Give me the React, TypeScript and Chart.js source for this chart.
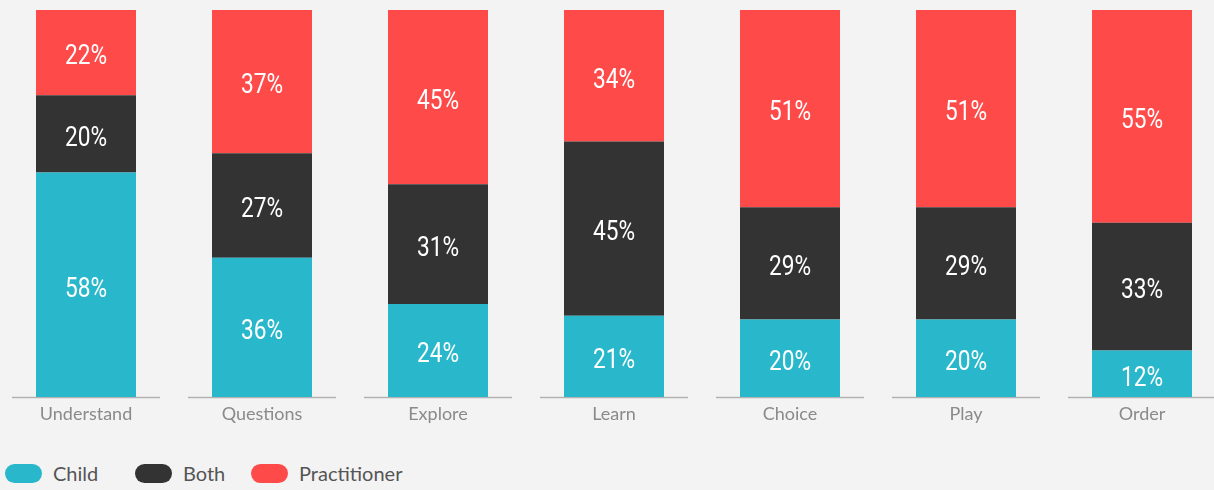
import React, { useEffect, useRef } from "react";
import { Chart, registerables } from "chart.js";

Chart.register(...registerables);

const categories = ["Understand", "Questions", "Explore", "Learn", "Choice", "Play", "Order"];
const childValues = [58, 36, 24, 21, 20, 20, 12];
const bothValues = [20, 27, 31, 45, 29, 29, 33];
const practitionerValues = [22, 37, 45, 34, 51, 51, 55];
const seriesNames = ["Child", "Both", "Practitioner"];
const seriesColors = ["#29b8cb", "#333333", "#ff4a4a"];

const labelFont = '"Roboto", "DejaVu Sans Condensed", sans-serif';
const textFont = '"Lato", "Open Sans", sans-serif';

const segmentPlugin = {
  id: "segments",
  beforeDatasetsDraw(chart: any) {
    const ctx = chart.ctx;
    const x = chart.scales.x;
    const y = chart.chartArea.bottom;
    ctx.save();
    ctx.strokeStyle = "#b3b3b3";
    ctx.lineWidth = 1.5;
    categories.forEach((_, i) => {
      const cx = x.getPixelForValue(i);
      ctx.beginPath();
      ctx.moveTo(cx - 74, y + 0.5);
      ctx.lineTo(cx + 74, y + 0.5);
      ctx.stroke();
    });
    ctx.restore();
  },
};

const valueLabelPlugin = {
  id: "valueLabels",
  afterDatasetsDraw(chart: any) {
    const ctx = chart.ctx;
    chart.data.datasets.forEach((ds: any, di: number) => {
      const meta = chart.getDatasetMeta(di);
      meta.data.forEach((bar: any, i: number) => {
        const v = ds.data[i];
        const cy = (bar.y + bar.base) / 2;
        ctx.save();
        ctx.fillStyle = "#ffffff";
        ctx.font = `27px ${labelFont}`;
        ctx.textAlign = "center";
        ctx.textBaseline = "middle";
        ctx.translate(bar.x, cy + 5);
        ctx.scale(0.84, 1);
        ctx.fillText(`${v}%`, 0, 0);
        ctx.restore();
      });
    });
  },
};

export default function App() {
  const ref = useRef<HTMLCanvasElement>(null);

  useEffect(() => {
    document.body.style.margin = "0";
    document.body.style.background = "#f3f3f3";
    const chart = new Chart(ref.current!, {
      type: "bar",
      data: {
        labels: categories,
        datasets: [childValues, bothValues, practitionerValues].map((d, i) => ({
          label: seriesNames[i],
          data: d,
          backgroundColor: seriesColors[i],
          borderWidth: 0,
          categoryPercentage: 1,
          barPercentage: 100 / 176,
        })),
      },
      options: {
        animation: false,
        responsive: false,
        maintainAspectRatio: false,
        layout: { padding: { top: 10, left: 0, right: 0, bottom: 0 } },
        plugins: { legend: { display: false }, tooltip: { enabled: false } },
        scales: {
          x: {
            stacked: true,
            grid: { display: false },
            border: { display: false },
            ticks: {
              color: "#8a8a8a",
              font: { family: textFont, size: 18 },
              padding: -2,
              maxRotation: 0,
            },
            afterFit(scale: any) {
              scale.height = 43;
            },
          },
          y: {
            stacked: true,
            display: false,
            min: 0,
            max: 100,
          },
        },
      },
      plugins: [segmentPlugin, valueLabelPlugin],
    });
    return () => chart.destroy();
  }, []);

  const legendX = [5, 135, 251];

  return (
    <div
      style={{
        position: "fixed",
        left: 0,
        top: 0,
        width: 1214,
        height: 490,
        overflow: "hidden",
        background: "#f3f3f3",
      }}
    >
      <canvas
        ref={ref}
        width={1232}
        height={440}
        style={{ position: "absolute", left: -2, top: 0, width: 1232, height: 440 }}
      />
      {seriesNames.map((n, i) => (
        <div
          key={n}
          style={{
            position: "absolute",
            left: legendX[i],
            top: 462,
            height: 23,
            display: "flex",
            alignItems: "center",
            fontFamily: textFont,
            fontSize: 20,
            color: "#555555",
            whiteSpace: "nowrap",
          }}
        >
          <span
            style={{
              display: "inline-block",
              width: 37,
              height: 19,
              borderRadius: 10,
              background: seriesColors[i],
              marginRight: 11,
            }}
          />
          <span style={{ position: "relative", top: -1 }}>{n}</span>
        </div>
      ))}
    </div>
  );
}
